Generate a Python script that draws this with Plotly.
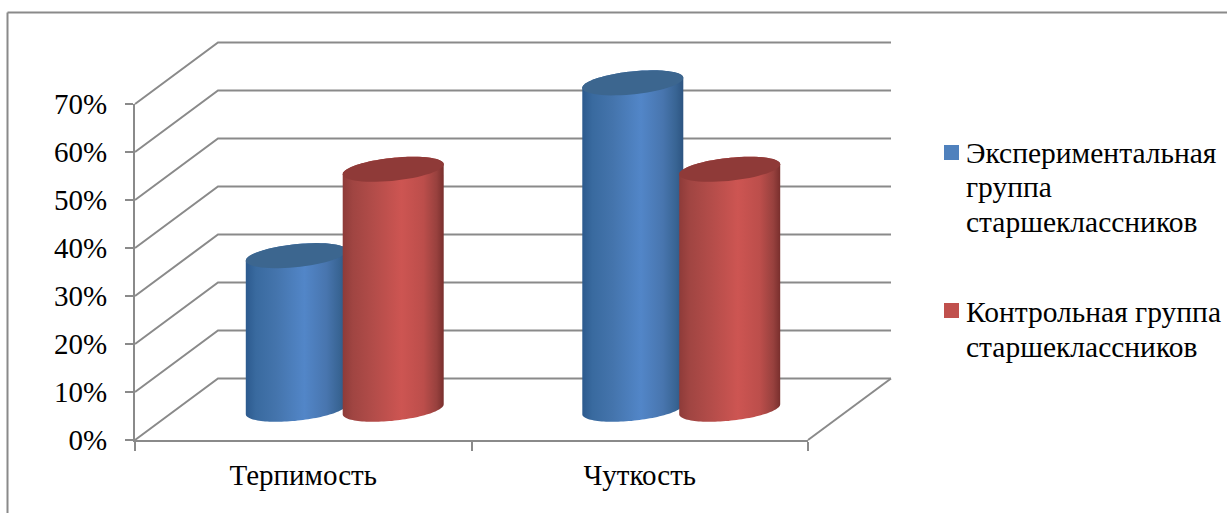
import numpy as np
import plotly.graph_objects as go

# Chart data
categories = ["Терпимость", "Чуткость"]
series_lines = [["Экспериментальная", "группа", "старшеклассников"],
                ["Контрольная группа", "старшеклассников"]]
experimental = [0.32, 0.68]
control = [0.50, 0.50]
y_ticks = [0.0, 0.1, 0.2, 0.3, 0.4, 0.5, 0.6, 0.7]

# Canvas size and position of the front face of the chart box, in pixels
W, H = 1227, 513
LEFT, RIGHT, BOTTOM, TOP = 135, 808, 440, 104
PX_PER_X = (RIGHT - LEFT) / 2
PX_PER_Y = (BOTTOM - TOP) / 0.7

# Oblique projection of the box depth, in axis units
DEPTH_X = 83 / PX_PER_X
DEPTH_Y = 61.5 / PX_PER_Y
GRID = "#8a8a8a"

# Cylinder proportions, in axis units
RADIUS_X = 50.5 / PX_PER_X
TILT_Y = 5 / PX_PER_Y
RADIUS_Y = 11.5 / PX_PER_Y
OFFSET = 0.144
SERIES_OFFSET = [-OFFSET, OFFSET]

BODY_SCALES = [
    [[0, "#2c5a8e"], [0.10, "#396a9f"], [0.30, "#4474ac"], [0.58, "#5286c8"],
     [0.80, "#4875ae"], [0.93, "#386493"], [1, "#2d5481"]],
    [[0, "#8e3b39"], [0.10, "#a04542"], [0.30, "#b24c49"], [0.58, "#cd5552"],
     [0.80, "#bc4e4b"], [0.93, "#98413e"], [1, "#792f2d"]],
]
TOP_COLORS = ["#3c668f", "#8f3a38"]
KEY_COLORS = ["#4f81bd", "#c0504d"]

# Marks live on a hidden full-canvas subplot sharing the units of the visible
# axes, so the walls and cylinders may extend past the front face of the box.
MARK_AXES = dict(xaxis="x2", yaxis="y2", showlegend=False, hoverinfo="skip")


def ellipse(cx, level, start, stop):
    t = np.linspace(start, stop, 60)
    return cx + RADIUS_X * np.cos(t), level + TILT_Y * np.cos(t) + RADIUS_Y * np.sin(t)


def add_cylinder(fig, category_index, series_index, value):
    cx = category_index + 0.5 + SERIES_OFFSET[series_index] + DEPTH_X / 2
    base = DEPTH_Y / 2
    lower_x, lower_y = ellipse(cx, base, np.pi, 2 * np.pi)
    upper_x, upper_y = ellipse(cx, base + value, 0, np.pi)
    fig.add_trace(go.Scatter(
        x=np.concatenate([lower_x, upper_x]), y=np.concatenate([lower_y, upper_y]),
        mode="none", fill="toself",
        fillgradient=dict(type="horizontal", colorscale=BODY_SCALES[series_index]),
        **MARK_AXES,
    ))
    cap_x, cap_y = ellipse(cx, base + value, 0, 2 * np.pi)
    fig.add_trace(go.Scatter(
        x=cap_x, y=cap_y, mode="none", fill="toself",
        fillcolor=TOP_COLORS[series_index], **MARK_AXES,
    ))


fig = go.Figure()

# Empty trace that keeps the visible axes in place
fig.add_trace(go.Scatter(x=[None], y=[None], mode="lines", showlegend=False, hoverinfo="skip"))

# Side wall and back wall grid lines
for tick in y_ticks:
    fig.add_trace(go.Scatter(
        x=[0, DEPTH_X, 2 + DEPTH_X], y=[tick, tick + DEPTH_Y, tick + DEPTH_Y],
        mode="lines", line=dict(color=GRID, width=2), **MARK_AXES,
    ))

# Right edge of the floor
fig.add_trace(go.Scatter(
    x=[2, 2 + DEPTH_X], y=[0, DEPTH_Y], mode="lines",
    line=dict(color=GRID, width=2), **MARK_AXES,
))

# Cylinders, one series after the other so the later one overlaps
for s, values in enumerate([experimental, control]):
    for c, value in enumerate(values):
        add_cylinder(fig, c, s, value)

FONT = dict(family="Liberation Serif", size=29, color="#000000")
KEY_FONT = dict(family="Liberation Serif", size=29.5, color="#000000")

fig.update_layout(
    width=W, height=H, margin=dict(l=0, r=0, t=0, b=0, pad=0),
    paper_bgcolor="white", plot_bgcolor="rgba(0,0,0,0)", showlegend=False, font=FONT,
    xaxis=dict(
        domain=[LEFT / W, RIGHT / W], range=[0, 2], showgrid=False, zeroline=False,
        showline=True, linecolor=GRID, linewidth=2, automargin=False,
        tickmode="array", tickvals=[0.5, 1.5], ticktext=categories,
        ticks="", ticklabelstandoff=8, tickfont=FONT,
        minor=dict(tickmode="array", tickvals=[0, 1, 2], ticks="outside",
                   ticklen=9, tickwidth=2, tickcolor=GRID),
    ),
    yaxis=dict(
        domain=[1 - BOTTOM / H, 1 - TOP / H], range=[0, 0.7], showgrid=False, zeroline=False,
        showline=True, linecolor=GRID, linewidth=2, automargin=False,
        tickmode="array", tickvals=y_ticks, tickformat=".0%",
        ticks="outside", ticklen=8, tickwidth=2, tickcolor=GRID,
        ticklabelstandoff=12, tickfont=FONT,
    ),
    xaxis2=dict(
        domain=[0, 1], range=[-LEFT / PX_PER_X, (W - LEFT) / PX_PER_X], visible=False,
        anchor="y2", automargin=False,
    ),
    yaxis2=dict(
        domain=[0, 1], range=[(BOTTOM - H) / PX_PER_Y, BOTTOM / PX_PER_Y], visible=False,
        anchor="x2", automargin=False,
    ),
)

# Frame of the chart area (top and left edges)
for x0, y0, x1, y1 in [(7.5, 12.5, W, 12.5), (7.5, 12.5, 7.5, H)]:
    fig.add_shape(type="line", xref="paper", yref="paper",
                  x0=x0 / W, x1=x1 / W, y0=1 - y0 / H, y1=1 - y1 / H,
                  line=dict(color="#8a8a8a", width=2))

# Series key: a square beside the first line, then each text line at a fixed pitch
KEY_SQUARE_CENTRE = [152.5, 310.5]
KEY_FIRST_LINE = [153, 312]
LINE_PITCH = 34.5
for lines, color, centre, first in zip(series_lines, KEY_COLORS, KEY_SQUARE_CENTRE, KEY_FIRST_LINE):
    fig.add_shape(type="rect", xref="paper", yref="paper",
                  x0=944 / W, x1=959 / W, y0=1 - (centre - 7.5) / H, y1=1 - (centre + 7.5) / H,
                  fillcolor=color, line=dict(width=0))
    for i, line in enumerate(lines):
        fig.add_annotation(xref="paper", yref="paper", x=964.5 / W,
                           y=1 - (first + i * LINE_PITCH) / H,
                           xanchor="left", yanchor="middle", showarrow=False,
                           text=line, font=KEY_FONT, borderpad=0)

fig.write_html("out.html")
